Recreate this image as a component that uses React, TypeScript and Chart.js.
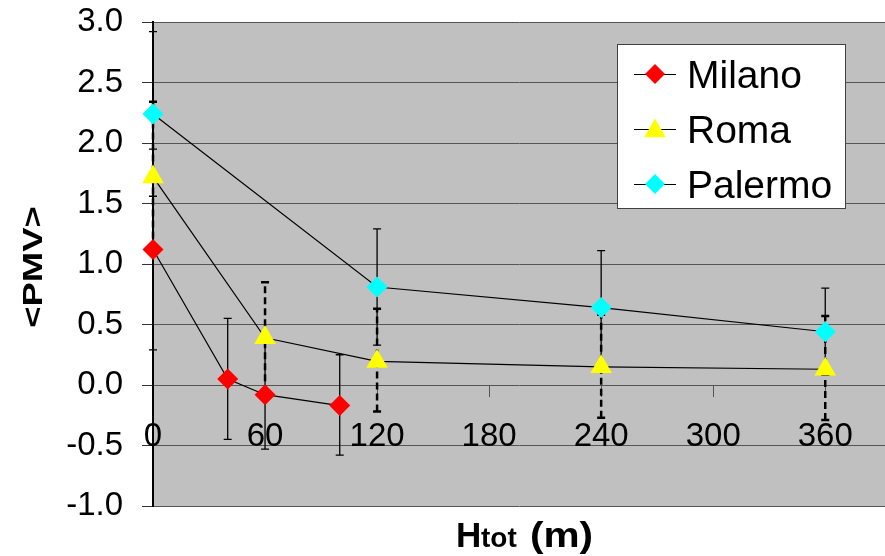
import React, { useEffect, useRef } from 'react';
import { Chart, registerables } from 'chart.js';
Chart.register(...registerables);

// ---- data ----
const seriesNames = ['Milano', 'Roma', 'Palermo'];
const seriesColors = ['#ff0000', '#ffff00', '#00ffff'];
const seriesPointStyles = ['rectRot', 'triangle', 'rectRot'];

const milanoX = [0, 40, 60, 100];
const milanoY = [1.12, 0.05, -0.08, -0.17];
const milanoLo = [0.29, -0.45, -0.53, -0.58];
const milanoHi = [1.95, 0.55, 0.37, 0.25];

const romaX = [0, 60, 120, 240, 360];
const romaY = [1.72, 0.39, 0.195, 0.15, 0.13];
const romaLo = [1.12, -0.06, -0.22, -0.27, -0.29];
const romaHi = [2.34, 0.85, 0.63, 0.58, 0.57];

const palermoX = [0, 120, 240, 360];
const palermoY = [2.24, 0.81, 0.64, 0.44];
const palermoLo = [1.56, 0.33, 0.17, 0.08];
const palermoHi = [2.92, 1.29, 1.11, 0.8];

const xTicks = [0, 60, 120, 180, 240, 300, 360];
const yTicks = [-1.0, -0.5, 0.0, 0.5, 1.0, 1.5, 2.0, 2.5, 3.0];
const xMin = 0;
const xMax = 392;
const yMin = -1.0;
const yMax = 3.0;

const yTitle = '<PMV>';
const xTitleMain = 'H';
const xTitleSub = 'tot';
const xTitleUnit = '(m)';

const FONT = '"Liberation Sans", Arial, sans-serif';

const errorSets = [
  { xs: milanoX, lo: milanoLo, hi: milanoHi, width: 1.3, dash: [] as number[], capW: 1.3 },
  { xs: palermoX, lo: palermoLo, hi: palermoHi, width: 1.3, dash: [] as number[], capW: 1.3 },
  { xs: romaX, lo: romaLo, hi: romaHi, width: 2.5, dash: [7, 4], capW: 2.5 },
];

const bgPlugin = {
  id: 'plotBg',
  beforeDraw(chart: any) {
    const { ctx, chartArea: a } = chart;
    ctx.save();
    ctx.fillStyle = '#c0c0c0';
    ctx.fillRect(a.left, a.top, a.right - a.left, a.bottom - a.top);
    ctx.restore();
  },
};

const errorBarPlugin = {
  id: 'errorBars',
  beforeDatasetsDraw(chart: any) {
    const { ctx } = chart;
    const xs = chart.scales.x;
    const ys = chart.scales.y;
    ctx.save();
    ctx.strokeStyle = '#000';
    for (const s of errorSets) {
      s.xs.forEach((xv, j) => {
        const px = xs.getPixelForValue(xv);
        const yl = ys.getPixelForValue(s.lo[j]);
        const yh = ys.getPixelForValue(s.hi[j]);
        ctx.lineWidth = s.width;
        ctx.setLineDash(s.dash);
        ctx.beginPath();
        ctx.moveTo(px, yl);
        ctx.lineTo(px, yh);
        ctx.stroke();
        ctx.setLineDash([]);
        ctx.lineWidth = s.capW;
        ctx.beginPath();
        ctx.moveTo(px - 4, yl);
        ctx.lineTo(px + 4, yl);
        ctx.moveTo(px - 4, yh);
        ctx.lineTo(px + 4, yh);
        ctx.stroke();
      });
    }
    ctx.restore();
  },
};

const titlesPlugin = {
  id: 'titles',
  afterDraw(chart: any) {
    const { ctx } = chart;
    ctx.save();
    ctx.fillStyle = '#000';
    ctx.translate(33, 267);
    ctx.rotate(-Math.PI / 2);
    ctx.scale(1.3, 1);
    ctx.font = `bold 28px ${FONT}`;
    ctx.textAlign = 'center';
    ctx.textBaseline = 'middle';
    ctx.fillText(yTitle, 0, 1);
    ctx.restore();

    ctx.save();
    ctx.fillStyle = '#000';
    ctx.textAlign = 'left';
    ctx.textBaseline = 'alphabetic';
    ctx.font = `bold 35px ${FONT}`;
    ctx.fillText(xTitleMain, 456, 547);
    ctx.font = `bold 28px ${FONT}`;
    ctx.fillText(xTitleSub, 481, 547);
    ctx.translate(530, 547);
    ctx.scale(1.16, 1);
    ctx.font = `bold 35px ${FONT}`;
    ctx.fillText(xTitleUnit, 0, 0);
    ctx.restore();
  },
};

function drawMarker(ctx: CanvasRenderingContext2D, style: string, x: number, y: number, r: number) {
  ctx.beginPath();
  if (style === 'triangle') {
    const w = r * Math.sin((2 * Math.PI) / 3);
    ctx.moveTo(x, y - r);
    ctx.lineTo(x + w, y + r / 2);
    ctx.lineTo(x - w, y + r / 2);
  } else {
    ctx.moveTo(x, y - r);
    ctx.lineTo(x + r, y);
    ctx.lineTo(x, y + r);
    ctx.lineTo(x - r, y);
  }
  ctx.closePath();
  ctx.fill();
}

const legendPlugin = {
  id: 'customLegend',
  afterDraw(chart: any) {
    const { ctx } = chart;
    ctx.save();
    ctx.fillStyle = '#ffffff';
    ctx.fillRect(617.5, 44.5, 228, 164);
    ctx.strokeStyle = '#404040';
    ctx.lineWidth = 1;
    ctx.strokeRect(617.5, 44.5, 228, 164);
    const rowsY = [74, 129, 184];
    seriesNames.forEach((name, i) => {
      const y = rowsY[i];
      ctx.strokeStyle = '#000';
      ctx.lineWidth = 1;
      ctx.beginPath();
      ctx.moveTo(634, y + 0.5);
      ctx.lineTo(676, y + 0.5);
      ctx.stroke();
      ctx.fillStyle = seriesColors[i];
      const tri = seriesPointStyles[i] === 'triangle';
      drawMarker(ctx, seriesPointStyles[i], 655, tri ? y + 2 : y, tri ? 12.5 : 10);
      ctx.fillStyle = '#000';
      ctx.font = `39px ${FONT}`;
      ctx.textAlign = 'left';
      ctx.textBaseline = 'alphabetic';
      ctx.fillText(name, 687, y + 14);
    });
    ctx.restore();
  },
};

function toPoints(xs: number[], ys: number[]) {
  return xs.map((x, i) => ({ x, y: ys[i] }));
}

export default function App() {
  const ref = useRef<HTMLCanvasElement>(null);
  useEffect(() => {
    if (!ref.current) return;
    const mk = (i: number, xs: number[], ys: number[]) => ({
      label: seriesNames[i],
      data: toPoints(xs, ys),
      borderColor: '#000',
      borderWidth: 1.2,
      pointStyle: seriesPointStyles[i],
      pointRadius: seriesPointStyles[i] === 'triangle' ? 12.5 : 10.5,
      pointBackgroundColor: seriesColors[i],
      pointBorderWidth: 0,
      pointBorderColor: seriesColors[i],
      fill: false,
      tension: 0,
      clip: false as any,
    });
    const chart = new Chart(ref.current, {
      type: 'line',
      data: {
        datasets: [
          mk(0, milanoX, milanoY),
          mk(1, romaX, romaY),
          mk(2, palermoX, palermoY),
        ],
      },
      options: {
        animation: false,
        responsive: false,
        devicePixelRatio: 1,
        layout: { autoPadding: false, padding: { left: 0, right: 0, top: 22, bottom: 50 } } as any,
        plugins: { legend: { display: false }, tooltip: { enabled: false } },
        events: [],
        scales: {
          x: {
            type: 'linear',
            position: { y: 0 } as any,
            min: xMin,
            max: xMax,
            afterFit: (s: any) => {
              s.height = 0;
              s.paddingLeft = 0;
              s.paddingRight = 0;
              s.paddingTop = 0;
              s.paddingBottom = 0;
            },
            afterBuildTicks: (s: any) => {
              s.ticks = xTicks.map((v) => ({ value: v }));
            },
            grid: {
              drawOnChartArea: false,
              drawTicks: true,
              tickLength: 11,
              tickColor: '#555',
              tickWidth: 1,
            },
            border: { display: true, color: '#555', width: 1 },
            ticks: {
              autoSkip: false,
              maxRotation: 0,
              padding: 21,
              color: '#000',
              font: { family: FONT, size: 33 },
              callback: (v: any) => String(v),
            },
          },
          y: {
            type: 'linear',
            min: yMin,
            max: yMax,
            afterFit: (s: any) => {
              s.width = 153;
              s.paddingTop = 0;
              s.paddingBottom = 0;
              s.paddingLeft = 0;
              s.paddingRight = 0;
            },
            afterBuildTicks: (s: any) => {
              s.ticks = yTicks.map((v) => ({ value: v }));
            },
            grid: {
              drawOnChartArea: true,
              drawTicks: true,
              tickLength: 11,
              tickColor: '#333',
              color: (c: any) => (c.tick && c.tick.value === 0 ? 'rgba(0,0,0,0)' : '#555'),
              lineWidth: 1,
              tickBorderDash: [],
            } as any,
            border: { display: true, color: '#000', width: 2 },
            ticks: {
              padding: 19,
              color: '#000',
              font: { family: FONT, size: 33 },
              callback: (v: any) => Number(v).toFixed(1),
            },
          },
        },
      },
      plugins: [bgPlugin, errorBarPlugin, titlesPlugin, legendPlugin],
    });
    return () => chart.destroy();
  }, []);
  return (
    <div style={{ position: 'absolute', left: 0, top: 0, width: 885, height: 556 }}>
      <canvas ref={ref} width={885} height={556} style={{ display: 'block' }} />
    </div>
  );
}
